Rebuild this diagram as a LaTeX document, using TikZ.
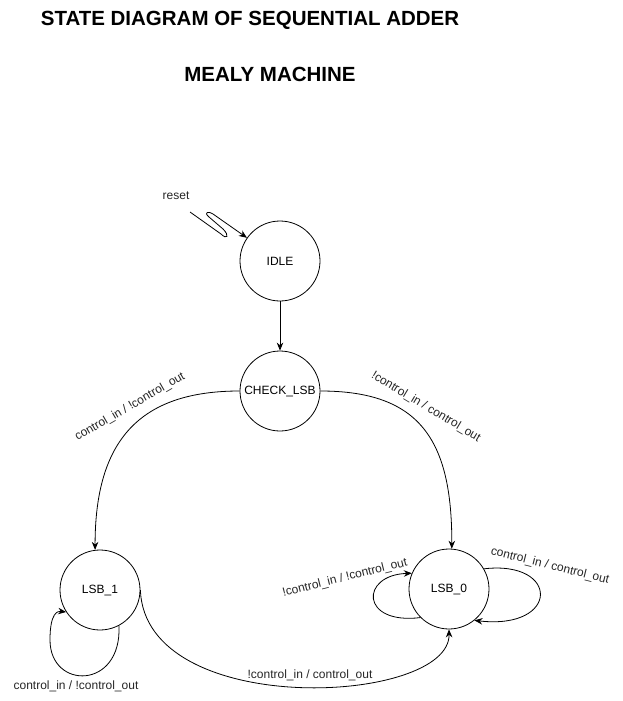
\documentclass[tikz,border=0pt]{standalone}
\usepackage{fontspec}
\setmainfont{Liberation Sans}
\usetikzlibrary{arrows.meta}

\begin{document}
\begin{tikzpicture}[x=1pt, y=-1pt, line width=0.8pt,
  state/.style={circle, draw, minimum size=80pt, inner sep=0pt, font=\fontsize{12}{14}\selectfont},
  trans/.style={-{Stealth[length=8pt,width=6.5pt]}},
  lbl/.style={font=\fontsize{12}{14}\selectfont, inner sep=1pt, text=black!85},
  heading/.style={font=\bfseries\fontsize{20.5}{24}\selectfont}]
  \useasboundingbox (0,0) rectangle (622,701);
  \node (title) [heading] at (250,20) {STATE DIAGRAM OF SEQUENTIAL ADDER};
  \node (sub) [heading] at (270,74) {MEALY MACHINE};
  % states
  \node (idle) [state] at (280,261) {IDLE};
  \node (chk) [state] at (280,391) {CHECK\_LSB};
  \node (lsb1) [state] at (100,590) {LSB\_1};
  \node (lsb0) [state] at (449,589) {LSB\_0};
  % reset
  \node (reset) [lbl] at (176,196) {reset};
  \coordinate (r0) at (190,212);
  \draw [trans] (r0) -- (221,234) .. controls (227,240) and (230,236) .. (223,229) -- (209,217) .. controls (203,212) and (209,211) .. (213,214) -- (idle);
  % transitions
  \draw [trans] (idle) -- (chk);
  \draw [trans] (chk.west) .. controls (140,391) and (95,440) .. (lsb1.97);
  \node (t1) [lbl, rotate=30] at (130,407) {control\_in / !control\_out};
  \draw [trans] (chk.east) .. controls (420,391) and (452,440) .. (lsb0.86);
  \node (t2) [lbl, rotate=-31] at (426,407) {!control\_in / control\_out};
  \draw [trans] (lsb1.east) .. controls (145,720) and (450,705) .. (lsb0.south);
  \node (t3) [lbl] at (310,675) {!control\_in / control\_out};
  % self loops
  \draw [trans] (lsb1.-62) .. controls (122,690) and (50,690) .. (50,640) .. controls (50,612) and (58,611) .. (lsb1.213);
  \node (l1) [lbl] at (76,686) {control\_in / !control\_out};
  \draw [trans] (lsb0.225) .. controls (360,625) and (360,575) .. (lsb0.157);
  \node (l0a) [lbl, rotate=14] at (345,578) {!control\_in / !control\_out};
  \draw [trans] (lsb0.30) .. controls (560,560) and (560,630) .. (lsb0.-51);
  \node (l0b) [lbl, rotate=-14] at (550,566) {control\_in / control\_out};
\end{tikzpicture}
\end{document}
